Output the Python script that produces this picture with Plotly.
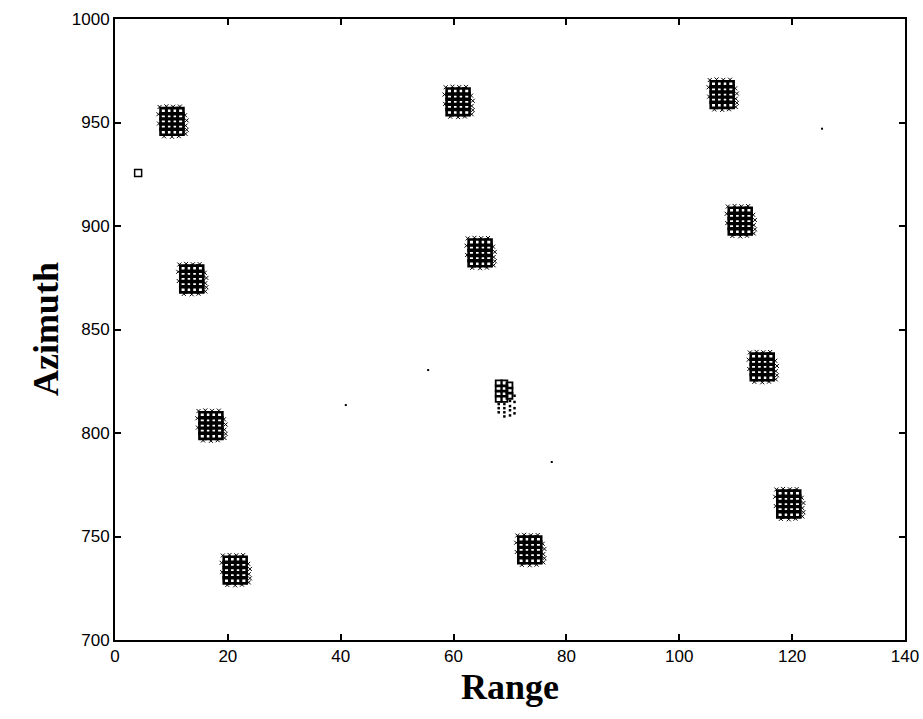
import plotly.graph_objects as go

# Cluster centres (Range, Azimuth)
cluster_range = [10.1, 13.6, 17.0, 21.3, 60.8, 64.7, 73.5, 107.6, 110.8, 114.7, 119.4]
cluster_azim = [950.5, 874.4, 803.6, 733.8, 960.0, 887.0, 743.5, 963.5, 902.4, 831.9, 765.7]

# Elongated cluster near Range 69 (squares on top, dotted tail below)
long_sq_range = [68.0, 69.0, 69.9, 68.0, 69.0, 69.9, 68.0, 69.0, 69.9, 68.0, 69.0]
long_sq_azim = [824.0, 824.0, 823.0, 821.5, 821.5, 820.5, 819.0, 819.0, 818.0, 816.5, 816.5]
long_dot_range = [68.0, 68.0, 68.0, 69.0, 69.0, 69.0, 69.0, 70.0, 70.0, 70.0, 70.0, 70.8, 70.8, 70.8, 70.8]
long_dot_azim = [814.0, 812.0, 810.0, 814.0, 812.0, 810.0, 808.0, 815.5, 813.0, 811.0, 808.5, 818.0, 815.0, 812.0, 809.5]

# Lone square and isolated dots
single_range = [4.1]
single_azim = [925.6]
dot_range = [40.9, 55.5, 77.4, 125.3]
dot_azim = [813.5, 830.4, 786.0, 947.0]

# Detection pattern within one cluster (Range / Azimuth offsets)
pat_dx = [-1.5, -0.5, 0.5, 1.5] * 5
pat_dy = [5.0] * 4 + [2.5] * 4 + [0.0] * 4 + [-2.5] * 4 + [-5.0] * 4
halo_dx = [-2.2, -1.0, 0.2, 1.4, 2.3, 2.4, -2.3, -1.4, 0.0, 1.2, 2.4, -2.4, 2.6, 2.6]
halo_dy = [7.0, 7.3, 7.1, 7.2, 3.0, -2.0, -1.0, -7.2, -7.4, -7.1, -6.0, 3.5, 0.5, -4.0]

xs, ys, hx, hy = [], [], [], []
for cx, cy in zip(cluster_range, cluster_azim):
    xs += [cx + d for d in pat_dx]
    ys += [cy + d for d in pat_dy]
    hx += [cx + d for d in halo_dx]
    hy += [cy + d for d in halo_dy]

fig = go.Figure()
fig.add_trace(go.Scatter(x=hx, y=hy, mode="markers",
                         marker=dict(symbol="x-thin-open", size=4, color="black",
                                     line=dict(width=1, color="black")),
                         hoverinfo="skip"))
fig.add_trace(go.Scatter(x=xs, y=ys, mode="markers",
                         marker=dict(symbol="square-open", size=6, color="black",
                                     line=dict(width=2.6, color="black"))))
fig.add_trace(go.Scatter(x=long_dot_range, y=long_dot_azim, mode="markers",
                         marker=dict(symbol="square", size=2.5, color="black")))
fig.add_trace(go.Scatter(x=long_sq_range, y=long_sq_azim, mode="markers",
                         marker=dict(symbol="square-open", size=6, color="black",
                                     line=dict(width=1.8, color="black"))))
fig.add_trace(go.Scatter(x=single_range, y=single_azim, mode="markers",
                         marker=dict(symbol="square-open", size=7, color="black",
                                     line=dict(width=1.5, color="black"))))
fig.add_trace(go.Scatter(x=dot_range, y=dot_azim, mode="markers",
                         marker=dict(symbol="square", size=2, color="black")))

axis_common = dict(showline=True, linecolor="black", linewidth=2, mirror="ticks",
                   ticks="inside", ticklen=6, tickwidth=1.5, tickcolor="black",
                   showgrid=False, zeroline=False, automargin=False,
                   tickfont=dict(family="Liberation Sans, Arial, sans-serif", size=17, color="black"))

fig.update_layout(
    width=923, height=719,
    margin=dict(l=115, r=18, t=19, b=79),
    paper_bgcolor="white", plot_bgcolor="white",
    showlegend=False,
    xaxis=dict(range=[0, 140], tickvals=[0, 20, 40, 60, 80, 100, 120, 140], **axis_common),
    yaxis=dict(range=[700, 1000], tickvals=[700, 750, 800, 850, 900, 950, 1000], **axis_common),
    annotations=[
        dict(text="<b>Range</b>", xref="paper", yref="paper", x=0.5, y=-0.04,
             xanchor="center", yanchor="top", showarrow=False,
             font=dict(family="Liberation Serif, Times New Roman, serif", size=36, color="black")),
        dict(text="<b>Azimuth</b>", xref="paper", yref="paper", x=-0.06, y=0.5,
             xanchor="right", yanchor="middle", textangle=-90, showarrow=False,
             font=dict(family="Liberation Serif, Times New Roman, serif", size=36, color="black")),
    ],
)

fig.write_html("out.html")
